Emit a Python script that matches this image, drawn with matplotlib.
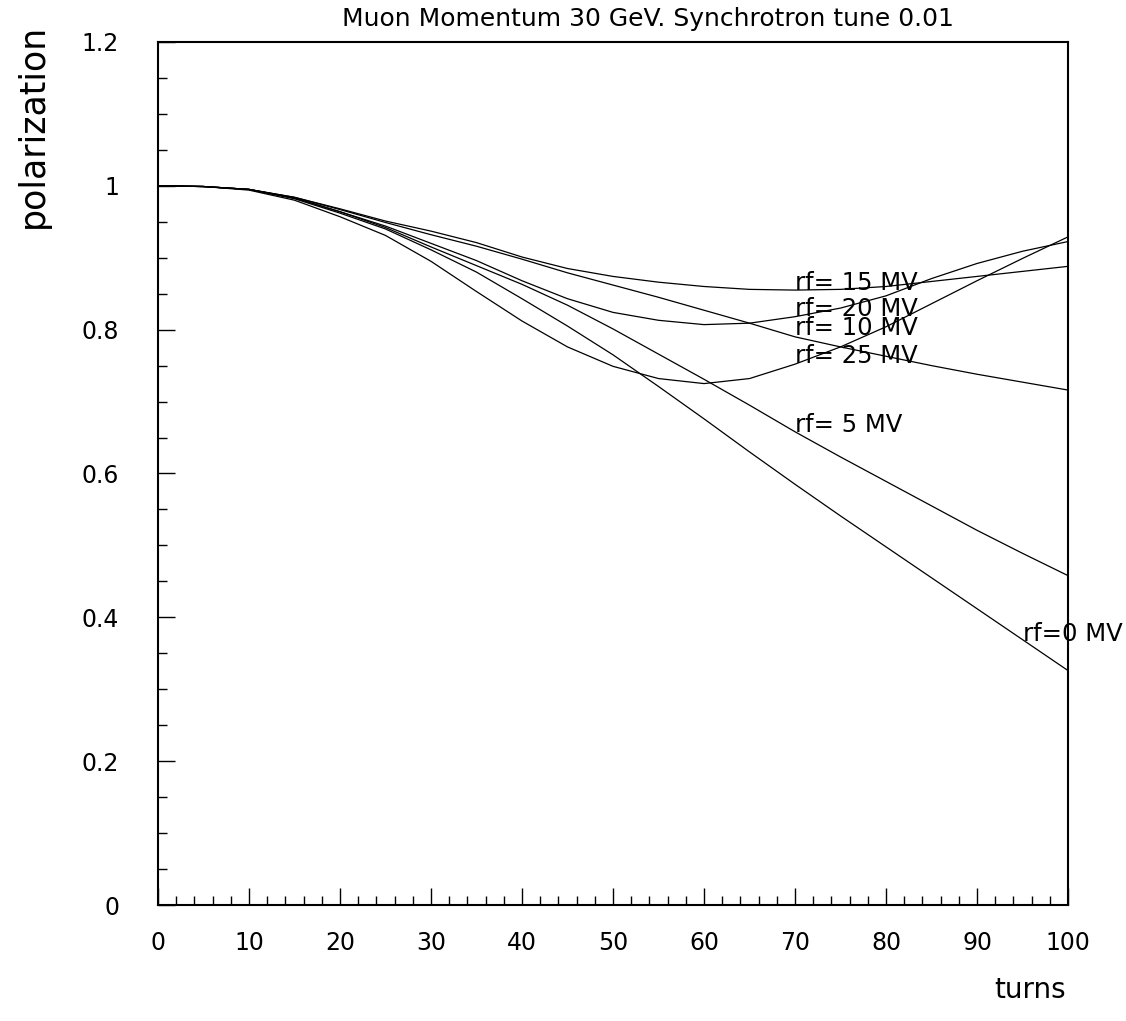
import matplotlib
matplotlib.use('Agg')
import matplotlib.pyplot as plt
from matplotlib.ticker import MultipleLocator, FormatStrFormatter

turns = [0, 5, 10, 15, 20, 25, 30, 35, 40, 45, 50, 55, 60, 65, 70, 75, 80, 85, 90, 95, 100]

# polarization, one list per rf voltage
pol_0 = [1.000, 0.999, 0.995, 0.982, 0.962, 0.940, 0.911, 0.880, 0.843, 0.805, 0.765,
         0.721, 0.676, 0.630, 0.585, 0.541, 0.498, 0.455, 0.412, 0.369, 0.326]
pol_5 = [1.000, 0.999, 0.995, 0.983, 0.964, 0.942, 0.915, 0.889, 0.863, 0.834, 0.801,
         0.766, 0.731, 0.695, 0.658, 0.623, 0.589, 0.555, 0.521, 0.489, 0.458]
pol_10 = [1.000, 0.999, 0.995, 0.984, 0.967, 0.949, 0.932, 0.916, 0.898, 0.879, 0.862,
          0.845, 0.827, 0.809, 0.790, 0.776, 0.763, 0.750, 0.738, 0.727, 0.716]
pol_15 = [1.000, 0.999, 0.995, 0.984, 0.968, 0.951, 0.937, 0.921, 0.901, 0.885, 0.874,
          0.866, 0.860, 0.856, 0.855, 0.856, 0.860, 0.867, 0.874, 0.881, 0.888]
pol_20 = [1.000, 0.999, 0.995, 0.983, 0.964, 0.944, 0.920, 0.896, 0.868, 0.843, 0.824,
          0.813, 0.807, 0.809, 0.818, 0.830, 0.847, 0.871, 0.892, 0.909, 0.9225]
pol_25 = [1.000, 0.999, 0.994, 0.980, 0.957, 0.931, 0.895, 0.853, 0.812, 0.776, 0.749,
          0.732, 0.725, 0.732, 0.752, 0.776, 0.804, 0.836, 0.868, 0.899, 0.929]

labels = ['rf=0 MV', 'rf= 5 MV', 'rf= 10 MV', 'rf= 15 MV', 'rf= 20 MV', 'rf= 25 MV']
label_x = [95, 70, 70, 70, 70, 70]
label_y = [0.377, 0.668, 0.802, 0.865, 0.829, 0.764]

fig = plt.figure(figsize=(11.26, 10.21), dpi=100)
ax = fig.add_axes([0.1403, 0.1136, 0.8082, 0.8453])

for p in [pol_0, pol_5, pol_10, pol_15, pol_20, pol_25]:
    ax.plot(turns, p, 'k-', linewidth=0.9)

for lab, lx, ly in zip(labels, label_x, label_y):
    ax.text(lx, ly, lab, fontsize=17.5, va='center', ha='left')

ax.set_xlim(0, 100)
ax.set_ylim(0, 1.2)
ax.xaxis.set_major_locator(MultipleLocator(10))
ax.xaxis.set_minor_locator(MultipleLocator(2))
ax.yaxis.set_major_locator(MultipleLocator(0.2))
ax.yaxis.set_minor_locator(MultipleLocator(0.05))
ax.yaxis.set_major_formatter(FormatStrFormatter('%g'))
ax.tick_params(which='both', direction='in', top=False, right=False, labelsize=17)
ax.tick_params(which='major', length=12, width=1)
ax.tick_params(which='minor', length=6.5, width=1)
ax.tick_params(axis='x', pad=19)
ax.tick_params(axis='y', pad=28)
for s in ax.spines.values():
    s.set_linewidth(1.5)

fig.text(0.575, 0.981, 'Muon Momentum 30 GeV. Synchrotron tune 0.01',
         ha='center', va='center', fontsize=18)
fig.text(0.947, 0.030, 'turns', ha='right', va='center', fontsize=20)
fig.text(0.029, 0.877, 'polarization', ha='center', va='center', rotation=90, fontsize=25)

plt.savefig('out.png', dpi=100)
